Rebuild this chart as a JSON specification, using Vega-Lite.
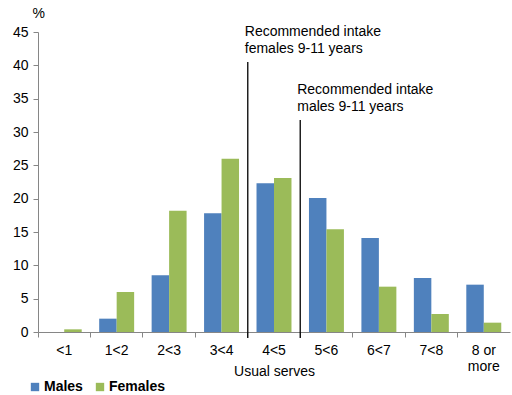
{
  "$schema": "https://vega.github.io/schema/vega-lite/v6.json",
  "width": 472,
  "height": 300,
  "autosize": {"type": "none"},
  "padding": {"left": 38, "top": 32, "right": 2, "bottom": 63},
  "background": "white",
  "config": {
    "font": "Liberation Sans",
    "view": {"stroke": null},
    "axis": {"labelFont": "Liberation Sans", "titleFont": "Liberation Sans", "labelColor": "#000", "titleColor": "#000", "domainColor": "#868686", "tickColor": "#868686", "labelFontSize": 14, "titleFontSize": 14, "titleFontWeight": "normal", "grid": false, "labelOverlap": false},
    "axisY": {"labelOverlap": false, "labelBound": false, "labelFlush": false, "tickCount": 10}
  },
  "datasets": {
    "bars": [
      {"cat": "<1", "sex": "Males", "value": 0},
      {"cat": "<1", "sex": "Females", "value": 0.4},
      {"cat": "1<2", "sex": "Males", "value": 2.0},
      {"cat": "1<2", "sex": "Females", "value": 6.0},
      {"cat": "2<3", "sex": "Males", "value": 8.5},
      {"cat": "2<3", "sex": "Females", "value": 18.2},
      {"cat": "3<4", "sex": "Males", "value": 17.8},
      {"cat": "3<4", "sex": "Females", "value": 26.0},
      {"cat": "4<5", "sex": "Males", "value": 22.3},
      {"cat": "4<5", "sex": "Females", "value": 23.1},
      {"cat": "5<6", "sex": "Males", "value": 20.1},
      {"cat": "5<6", "sex": "Females", "value": 15.4},
      {"cat": "6<7", "sex": "Males", "value": 14.1},
      {"cat": "6<7", "sex": "Females", "value": 6.8},
      {"cat": "7<8", "sex": "Males", "value": 8.1},
      {"cat": "7<8", "sex": "Females", "value": 2.7},
      {"cat": "8 or more", "sex": "Males", "value": 7.1},
      {"cat": "8 or more", "sex": "Females", "value": 1.4}
    ],
    "rules": [
      {"cat": "4<5", "value": 40.5, "bottom": -0.9},
      {"cat": "5<6", "value": 31.8, "bottom": -0.9}
    ],
    "notes": [
      {"cat": "4<5", "value": 46, "label": "Recommended intake\nfemales 9-11 years"},
      {"cat": "5<6", "value": 37.3, "label": "Recommended intake\nmales 9-11 years"}
    ]
  },
  "encoding": {
    "y": {
      "field": "value", "type": "quantitative",
      "scale": {"domain": [0, 45], "nice": false},
      "axis": {"title": "%", "titleAngle": 0, "titleAlign": "left", "titleX": -6, "titleY": -12, "values": [0,5,10,15,20,25,30,35,40,45], "labelOverlap": false, "tickSize": 5, "labelPadding": 5}
    }
  },
  "layer": [
    {
      "data": {"name": "bars"},
      "mark": {"type": "bar"},
      "encoding": {
        "x": {
          "field": "cat", "type": "nominal", "sort": null,
          "scale": {"domain": ["<1", "1<2", "2<3", "3<4", "4<5", "5<6", "6<7", "7<8", "8 or more"], "paddingInner": 0, "paddingOuter": 0},
          "axis": {"title": "Usual serves", "labelAngle": 0, "bandPosition": 0, "tickSize": 5, "labelPadding": 6, "titlePadding": -9, "labelBaseline": "top", "labelLineHeight": 16,
            "labelExpr": "datum.value == '8 or more' ? ['8 or', 'more'] : datum.value"}
        },
        "xOffset": {"field": "sex", "type": "nominal", "sort": ["Males", "Females"], "scale": {"paddingInner": 0, "paddingOuter": 0.5}},
        "color": {
          "field": "sex", "type": "nominal", "sort": ["Males", "Females"],
          "scale": {"domain": ["Males", "Females"], "range": ["#4F81BD", "#9BBB59"]},
          "legend": {"title": null, "orient": "none", "direction": "horizontal", "legendX": -10, "legendY": 348, "symbolType": "square", "symbolSize": 70, "symbolStrokeWidth": 0, "labelFontWeight": "bold", "labelFontSize": 14, "labelFont": "Liberation Sans", "labelColor": "#000", "columnPadding": 10, "labelOffset": 2}
        }
      }
    },
    {
      "data": {"name": "rules"},
      "mark": {"type": "rule", "color": "#000", "strokeWidth": 1.3},
      "encoding": {
        "x": {"field": "cat", "type": "nominal", "bandPosition": 0,
          "axis": {"title": "Usual serves", "labelAngle": 0, "bandPosition": 0, "tickSize": 5, "labelPadding": 6, "titlePadding": -9, "labelBaseline": "top", "labelLineHeight": 16,
            "labelExpr": "datum.value == '8 or more' ? ['8 or', 'more'] : datum.value"}},
        "y2": {"field": "bottom"}
      }
    },
    {
      "data": {"name": "notes"},
      "mark": {"type": "text", "align": "left", "baseline": "top", "fontSize": 14, "lineHeight": 17, "lineBreak": "\n", "font": "Liberation Sans", "color": "#000", "dx": -3, "letterSpacing": 0.7},
      "encoding": {
        "x": {"field": "cat", "type": "nominal", "bandPosition": 0,
          "axis": {"title": "Usual serves", "labelAngle": 0, "bandPosition": 0, "tickSize": 5, "labelPadding": 6, "titlePadding": -9, "labelBaseline": "top", "labelLineHeight": 16,
            "labelExpr": "datum.value == '8 or more' ? ['8 or', 'more'] : datum.value"}},
        "text": {"field": "label"}
      }
    }
  ]
}
